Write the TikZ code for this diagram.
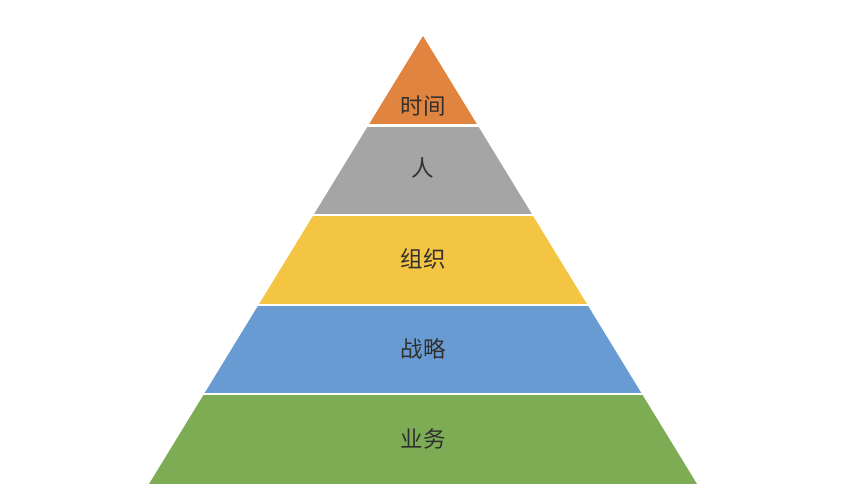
\documentclass[tikz,border=0pt]{standalone}
\usepackage{fontspec}
\newfontfamily\cjk{Noto Sans CJK SC}
\definecolor{cOrange}{HTML}{E0843F}
\definecolor{cGray}{HTML}{A5A5A5}
\definecolor{cYellow}{HTML}{F4C443}
\definecolor{cBlue}{HTML}{689BD2}
\definecolor{cGreen}{HTML}{7EAC55}
\definecolor{cText}{HTML}{303030}
\begin{document}
\begin{tikzpicture}[x=1pt,y=-1pt,
  lbl/.style={font=\cjk\fontsize{22.5}{26}\selectfont,text=cText,inner sep=0pt}]
\useasboundingbox (0,0) rectangle (868,502);
% geometry: apex (423,36), base y=484 from 149 to 697
\def\ax{423}\def\ay{36}\def\by{484}\def\hw{274}
\pgfmathsetmacro{\h}{\by-\ay}
\foreach \i/\col in {0/cOrange,1/cGray,2/cYellow,3/cBlue,4/cGreen}{
  \pgfmathsetmacro{\ya}{\ay+\i*\h/5}
  \pgfmathsetmacro{\yb}{\ay+(\i+1)*\h/5}
  \pgfmathsetmacro{\wa}{\hw*\i/5}
  \pgfmathsetmacro{\wb}{\hw*(\i+1)/5}
  \fill[\col] (\ax-\wa,\ya) -- (\ax+\wa,\ya) -- (\ax+\wb,\yb) -- (\ax-\wb,\yb) -- cycle;
}
\foreach \i in {1,2,3,4}{
  \pgfmathsetmacro{\ya}{\ay+\i*\h/5}
  \pgfmathsetmacro{\wa}{\hw*\i/5}
  \draw[white,line width=2.2pt] (\ax-\wa-3,\ya) -- (\ax+\wa+3,\ya);
}
\node[lbl] (t1) at (423,106) {时间};
\node[lbl] (t2) at (423,168) {人};
\node[lbl] (t3) at (423,259) {组织};
\node[lbl] (t4) at (423,349) {战略};
\node[lbl] (t5) at (423,439) {业务};
\end{tikzpicture}
\end{document}
